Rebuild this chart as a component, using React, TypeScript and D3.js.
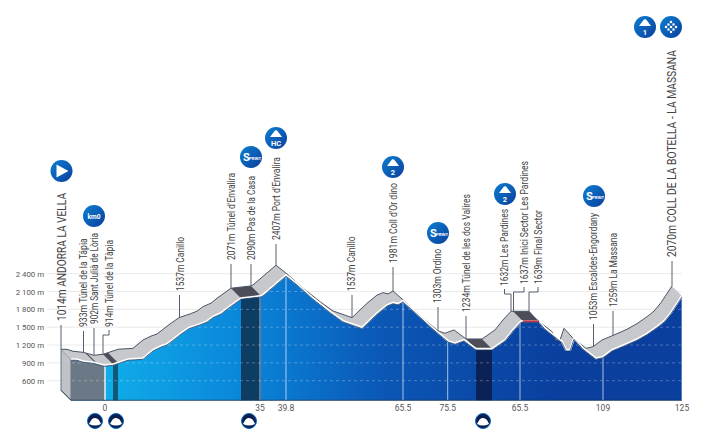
import React from "react";
import * as d3 from "d3";

// ---- data (profile) ----
const routeUnits = [0,6,12,22,33,42,49,57,72,78,82,90,96,104,109,118,129,136,142,150,156,170,190,192,215,226,242,259,272,291,306,316,322,327,332,344,362,377,384,393,405,421,434,442,450,468,474,491,495,499,503,512,525,532,541,553,566,576,586,593,600,611];
const routeElev = [1129,1128,1095,1078,1028,1044,1083,1129,1145,1230,1285,1350,1386,1490,1555,1661,1723,1770,1846,1905,1987,2156,2194,2211,2543,2396,2156,1930,1773,1661,1903,2040,2081,2060,2110,1930,1650,1437,1398,1454,1302,1302,1454,1622,1768,1768,1650,1425,1285,1285,1482,1314,1145,1172,1285,1369,1465,1560,1677,1770,1913,2194];
const elevTicks = [600,900,1200,1500,1800,2100,2400];
const distLabels = ["0","35","39.8","65.5","75.5","65.5","109","125"];
const distUnits = [44,199,225,342,386.7,459,542,621];
const pointLabels = ["1014m ANDORRA LA VELLA","933m Túnel de la Tápia","902m Sant Julià de Lòria","914m Túnel de la Tàpia","1537m Canillo","2071m Túnel d'Envalira","2090m Pas de la Casa","2407m Port d'Envalira","1537m Canillo","1981m Coll d'Or dino","1303m Ordino","1234m Túnel de les dos Valires","1632m Les Pardines","1637m Inici Sector Les Pardines","1639m Final Sector","1053m Escaldes-Engordany","1259m La Massana","2070m COLL DE LA BOTELLA - LA MASSANA"];
const pointUnits = [0,22.5,33,42,118.5,170,190,215,291,332,377,405,450,452.5,468,532.5,552,611];
const tunnelStart = [24,42,170,405,452];
const tunnelEnd = [26,47,190,421,468];

// ---- layout ----
const W = 720, H = 436;
const baseY = 400.3, depth = 10;
const x = d3.scaleLinear().domain([0, 621]).range([61, 682]);
const y = d3.scaleLinear().domain([600, 2400]).range([380.7, 273.7]);
const labelX = [61,83.5,94.7,109,180,231,251,276,351.7,393,437.7,466,504.5,524,538,593.3,613,671.5];
const labelBottom = [321,327,324,327,291,260,260,240,291,263,303,312,286,284,284,320,307,257];
const labelLength = [128,88.7,91,87,54,87,84,83,54.6,80,54,118,77,123,74,107,74,207];
const bandColors = [null,"#0f5878","#0e3d63",  "#0a2256", null];
const iconSpots: [number,number,string,string][] = [[61.5,171,"play",""],[94,216,"km0",""],[251,157,"sprint",""],[276,138,"kom","HC"],[393,167,"kom","2"],[438,233,"sprint",""],[505,194,"kom","2"],[594,196,"sprint",""],[645,27,"kom","1"],[671,27,"finish",""]];
const tunnelIconX = [95,116,249,483];

const elevAt = d3.scaleLinear().domain(routeUnits).range(routeElev);
const topPts = routeUnits.map((u, i) => [x(u), y(routeElev[i])] as [number, number]);
const frontPts = topPts.map(([a, b]) => [a + depth, b + depth] as [number, number]);
const line = d3.line();

function slice(a: number, b: number, off: number) {
  const us = [a, ...routeUnits.filter((u) => u > a && u < b), b];
  return us.map((u) => [x(u) + off, y(elevAt(u)) + off] as [number, number]);
}

function Icon({ cx, cy, kind, text }: { cx: number; cy: number; kind: string; text: string }) {
  return (
    <g transform={`translate(${cx},${cy})`}>
      <circle r={11} fill="url(#iconGrad)" />
      {kind === "play" && <path d="M-5,-6.5L7,0L-5,6.5Z" fill="#fff" />}
      {kind === "km0" && <text textAnchor="middle" y={3} fontSize={8} fontWeight={700} fill="#fff" textLength={13} lengthAdjust="spacingAndGlyphs">km0</text>}
      {kind === "sprint" && (
        <g fill="#fff" fontWeight={700}>
          <text x={-8} y={4} fontSize={11}>S</text>
          <text x={-2} y={2.5} fontSize={4.2}>PRINT</text>
        </g>
      )}
      {kind === "kom" && (
        <g fill="#fff">
          <path d="M-6,-1L-1.5,-7L0,-8L1.5,-7L6,-1Z" />
          <text textAnchor="middle" y={7.5} fontSize={7.5} fontWeight={700}>{text}</text>
        </g>
      )}
      {kind === "finish" && (
        <g fill="#fff">
          {d3.range(-5, 6, 2.5).flatMap((i) => d3.range(-5, 6, 2.5).filter((j) => (Math.round((i + j) / 2.5) + 20) % 2 === 0 && i * i + j * j < 34).map((j) => <rect key={`${i}_${j}`} x={i - 1.1} y={j - 1.1} width={2.2} height={2.2} />))}
        </g>
      )}
    </g>
  );
}

export default function App() {
  const frontTop = line(frontPts) as string;
  const last = frontPts[frontPts.length - 1];
  const first = frontPts[0];
  const frontArea = `${frontTop}L${last[0]},${baseY}L${first[0]},${baseY}Z`;
  const surface = (line(topPts) as string) + "L" + [...frontPts].reverse().map((p) => p.join(",")).join("L") + "Z";
  const x0 = x(44);
  return (
    <svg width={W} height={H} style={{ position: "absolute", left: 0, top: 0, background: "#fff", fontFamily: "Roboto, sans-serif" }}>
      <defs>
        <linearGradient id="blue" gradientUnits="userSpaceOnUse" x1={x0} x2={560} y1={0} y2={0}>
          <stop offset="0" stopColor="#10ade9" />
          <stop offset="0.32" stopColor="#0a83d8" />
          <stop offset="0.62" stopColor="#0b56b4" />
          <stop offset="1" stopColor="#0a3f9e" />
        </linearGradient>
        <linearGradient id="iconGrad" x1="0" x2="1" y1="0" y2="1">
          <stop offset="0" stopColor="#0c7fd0" />
          <stop offset="1" stopColor="#0a3f9e" />
        </linearGradient>
        <clipPath id="frontClip"><path d={frontArea} /></clipPath>
      </defs>

      {elevTicks.map((t) => (
        <g key={t}>
          <line x1={47} x2={682} y1={y(t)} y2={y(t)} stroke="#e4e4e6" strokeWidth={0.8} />
          <text x={44} y={y(t) + 3} textAnchor="end" fontSize={7.8} fill="#555">{d3.format(",")(t).replace(",", " ")} m</text>
        </g>
      ))}

      {/* left end face */}
      <path d={`M${x(0)},${y(routeElev[0])}L${first[0]},${first[1]}L${first[0]},${baseY}L${x(0)},${baseY - depth}Z`} fill="#bfc3c8" stroke="#48566a" strokeWidth={0.8} />

      {/* front area */}
      <path d={frontArea} fill="url(#blue)" />
      <g clipPath="url(#frontClip)">
        <rect x={first[0]} y={250} width={x0 - first[0]} height={160} fill="#6b7885" />
        {tunnelStart.map((s, i) => bandColors[i] && (
          <rect key={i} x={x(s) + depth} y={250} width={x(tunnelEnd[i]) - x(s)} height={160} fill={bandColors[i] as string} />
        ))}
        {elevTicks.map((t) => (
          <line key={t} x1={60} x2={682} y1={y(t)} y2={y(t)} stroke="#fff" strokeOpacity={0.35} strokeWidth={0.8} strokeDasharray="3 3" />
        ))}
        {distUnits.map((u, i) => (
          <line key={i} x1={x(u)} x2={x(u)} y1={250} y2={baseY} stroke="#fff" strokeOpacity={0.65} strokeWidth={i === 0 ? 2 : 1} />
        ))}
      </g>

      {/* surface */}
      <path d={surface} fill="#c6c8cb" />
      {tunnelStart.map((s, i) => {
        const t = slice(s, tunnelEnd[i], 0);
        const f = slice(s, tunnelEnd[i], depth).reverse();
        return <path key={i} d={(line([...t, ...f]) as string) + "Z"} fill="#4c4d58" />;
      })}
      <path d={line(topPts) as string} fill="none" stroke="#4a5568" strokeWidth={1} />
      <path d={frontTop} fill="none" stroke="#fff" strokeWidth={2.2} />
      <path d={frontTop} fill="none" stroke="#1f3d66" strokeWidth={0.8} transform="translate(0,1)" />
      <path d={line(slice(452, 468, depth)) as string} fill="none" stroke="#c0304a" strokeWidth={1.8} />
      <line x1={first[0]} x2={682} y1={baseY} y2={baseY} stroke="#14304f" strokeWidth={0.8} />
      <line x1={x(0)} x2={first[0]} y1={baseY - depth} y2={baseY} stroke="#14304f" strokeWidth={0.8} />

      {/* distance ticks */}
      {distLabels.map((d, i) => (
        <text key={i} x={x(distUnits[i])} y={411} textAnchor="middle" fontSize={8.5} fill="#555">{d}</text>
      ))}

      {/* point labels with leaders */}
      {pointLabels.map((t, i) => {
        const u = pointUnits[i];
        const px = x(u), py = y(elevAt(u));
        const lx = labelX[i], bottom = labelBottom[i];
        const big = i === 0 || i === pointLabels.length - 1;
        const elbow = Math.abs(lx - px) > 1.5;
        const d = elbow
          ? `M${px},${py}V${bottom + 8}H${lx}V${bottom + 3}`
          : `M${px},${py}V${bottom + 4}`;
        return (
          <g key={i}>
            <path d={d} fill="none" stroke="#55606e" strokeWidth={1} />
            <text transform={`translate(${lx + (big ? 4.5 : 3.7)},${bottom}) rotate(-90)`} fontSize={big ? 12 : 10.2} fill="#444" textLength={labelLength[i]} lengthAdjust="spacingAndGlyphs">{t}</text>
          </g>
        );
      })}

      {iconSpots.map(([cx, cy, kind, text], i) => (
        <Icon key={i} cx={cx} cy={cy} kind={kind} text={text} />
      ))}
      {tunnelIconX.map((c, i) => (
        <g key={i} transform={`translate(${c},421)`}>
          <circle r={7.5} fill="#0b1d4d" stroke="#0a6fc4" strokeWidth={1} />
          <path d="M-6,3Q-3,-4 0,-3Q4,-3 6,3Q0,6 -6,3Z" fill="#fff" />
        </g>
      ))}
    </svg>
  );
}
